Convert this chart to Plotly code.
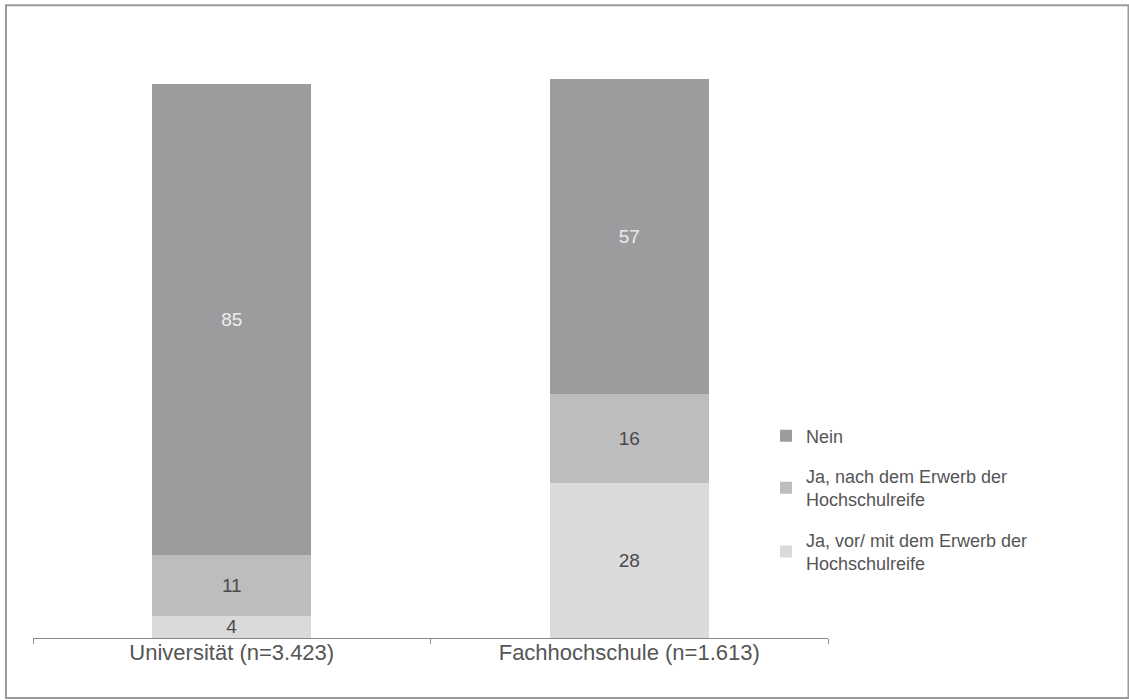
import plotly.graph_objects as go

# Hochschultyp (x-Achse)
categories = ["Universität (n=3.423)", "Fachhochschule (n=1.613)"]

# Anteile in Prozent je Antwortkategorie (von unten nach oben gestapelt)
ja_vor = [4, 28]
ja_nach = [11, 16]
nein = [85, 57]

series_names = [
    "Ja, vor/ mit dem Erwerb der<br>Hochschulreife",
    "Ja, nach dem Erwerb der<br>Hochschulreife",
    "Nein",
]
series_values = [ja_vor, ja_nach, nein]
series_colors = ["#dadadb", "#bdbdbe", "#9c9c9f"]
label_colors = ["#4a4a4a", "#4a4a4a", "#ececec"]
legend_ranks = [3, 2, 1]

FONT = "Liberation Sans, Arial, sans-serif"

fig = go.Figure()
for i, (name, vals, col, tcol, rank) in enumerate(
    zip(series_names, series_values, series_colors, label_colors, legend_ranks)
):
    fig.add_trace(
        go.Bar(
            x=categories,
            y=vals,
            name=name,
            legendgroup=f"g{i}",
            legendrank=rank,
            marker=dict(color=col, line=dict(width=0)),
            width=0.4,
            text=[str(v) for v in vals],
            textposition="inside",
            insidetextanchor="middle",
            textangle=0,
            constraintext="none",
            textfont=dict(family=FONT, size=19, color=tcol),
            hoverinfo="skip",
        )
    )

# outer frame around the chart
fig.add_shape(
    type="rect", xref="paper", yref="paper",
    x0=-0.034, x1=1.378, y0=-0.107, y1=1.128,
    line=dict(color="#9a9a9a", width=2), fillcolor="rgba(0,0,0,0)",
    layer="below",
)

fig.update_layout(
    width=1129,
    height=700,
    barmode="stack",
    bargap=0.6,
    plot_bgcolor="white",
    paper_bgcolor="white",
    margin=dict(l=33, r=301, t=77, b=62),
    font=dict(family=FONT, color="#4a4a4a"),
    showlegend=True,
    legend=dict(
        x=0.922, xanchor="left", y=0.247, yanchor="middle",
        traceorder="grouped",
        tracegroupgap=14,
        font=dict(family=FONT, size=18, color="#555555"),
        itemwidth=30,
        bgcolor="rgba(0,0,0,0)",
    ),
    xaxis=dict(
        range=[-0.5, 1.5],
        showline=True, linecolor="#8a8a8a", linewidth=1,
        ticks="outside", tickson="boundaries", ticklen=5, tickcolor="#8a8a8a",
        tickfont=dict(family=FONT, size=22, color="#555555"),
        ticklabelstandoff=-5,
        showgrid=False, zeroline=False,
    ),
    yaxis=dict(
        range=[0, 101.3],
        visible=False, showgrid=False, zeroline=False,
    ),
)

fig.write_html("out.html")
